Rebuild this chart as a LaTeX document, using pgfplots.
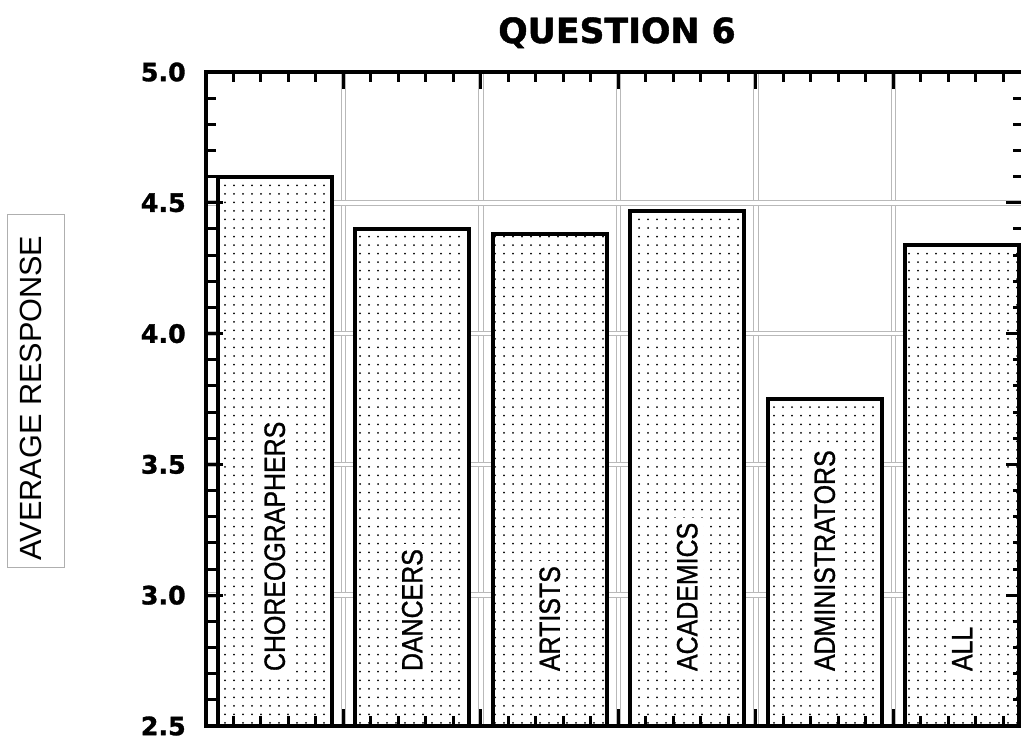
\documentclass[border=0pt]{standalone}
\usepackage{pgfplots}
\usepackage{pgfplotstable}
\pgfplotsset{compat=1.18}
\usepackage{fontspec}
\setmainfont{Liberation Sans}
\newfontfamily\heavyfont{DejaVu Sans}[BoldFeatures={FakeBold=1.2}]
\newfontfamily\narrowfont{Liberation Sans}[FakeStretch=0.85, FakeBold=1]
\usetikzlibrary{patterns.meta}

\tikzdeclarepattern{
  name=sparsedots,
  type=uncolored,
  bounding box={(-1pt,-1pt) and (1pt,1pt)},
  tile size={(6.75pt,6.4pt)},
  code={\pgfpathcircle{\pgfpointorigin}{0.75pt}\pgfusepath{fill}}
}

\definecolor{gridgray}{RGB}{185,185,185}
\definecolor{boxgray}{RGB}{175,175,175}

\pgfplotstableread{
x y
0 4.60
1 4.40
2 4.38
3 4.47
4 3.75
5 4.34
}\datatable

\tikzset{
  barlabel/.style={rotate=90, anchor=west, fill=white, inner sep=3.75pt,
    font=\narrowfont\fontsize{22}{24}\selectfont},
  gridline/.style={draw=gridgray, line width=0.8pt, double=white, double distance=2.6pt},
}

\begin{document}
\begin{tikzpicture}
\begin{axis}[
  axis on top,
  scale only axis,
  width=612.75pt, height=490.5pt,
  xmin=-0.5, xmax=5.442,
  ymin=2.5, ymax=5.0,
  clip mode=individual,
  axis line style={line width=3pt},
  xtick={-0.5,0.5,1.5,2.5,3.5,4.5,5.5},
  xticklabels={},
  minor x tick num=4,
  ytick={2.5,3.0,3.5,4.0,4.5,5.0},
  minor y tick num=4,
  xtick align=inside, ytick align=inside,
  xtick pos=both, ytick pos=both,
  tick style={line width=2.25pt, black},
  major tick length=13pt,
  minor tick length=7.5pt,
  yticklabel style={font=\heavyfont\bfseries\fontsize{19}{20}\selectfont,
    inner sep=0pt, xshift=-15pt},
  y tick label style={/pgf/number format/fixed, /pgf/number format/fixed zerofill,
    /pgf/number format/precision=1, /pgf/number format/assume math mode=true},
]
% grid below the bars
\foreach \gx in {0.5,1.5,2.5,3.5,4.5} {
  \edef\tmp{\noexpand\draw[gridline] (axis cs:\gx,2.5) -- (axis cs:\gx,5.0);}\tmp
}
\foreach \gy in {3.0,3.5,4.0,4.5} {
  \edef\tmp{\noexpand\draw[gridline] (axis cs:-0.5,\gy) -- (axis cs:5.442,\gy);}\tmp
}
\addplot[ybar, bar width=0.83, draw=black, line width=3pt, fill=white,
  postaction={pattern=sparsedots, pattern color=black}]
  table[x=x, y=y] {\datatable};
\node[barlabel] at (axis cs:0,2.69) {CHOREOGRAPHERS};
\node[barlabel] at (axis cs:1,2.69) {DANCERS};
\node[barlabel] at (axis cs:2,2.69) {ARTISTS};
\node[barlabel] at (axis cs:3,2.69) {ACADEMICS};
\node[barlabel] at (axis cs:4,2.69) {ADMINISTRATORS};
\node[barlabel] at (axis cs:5,2.69) {ALL};
\coordinate (O) at (rel axis cs:0,0);
\end{axis}

% title
\node[anchor=base, inner sep=0pt, font=\heavyfont\bfseries\fontsize{26}{28}\selectfont]
  at ([shift={(308.25pt,512.25pt)}]O) {QUESTION 6};
% y label box and text
\node[draw=boxgray, line width=0.75pt, minimum width=42.75pt, minimum height=264.75pt, inner sep=0pt]
  at ([shift={(-127.125pt,251.6pt)}]O) {};
\node[rotate=90, inner sep=0pt, font=\fontsize{23}{25}\selectfont]
  at ([shift={(-131.25pt,246pt)}]O) {AVERAGE RESPONSE};

\pgfresetboundingbox
\path[use as bounding box] ([shift={(-154.5pt,-10.5pt)}]O) rectangle ([shift={(611.25pt,544.5pt)}]O);
\end{tikzpicture}
\end{document}
